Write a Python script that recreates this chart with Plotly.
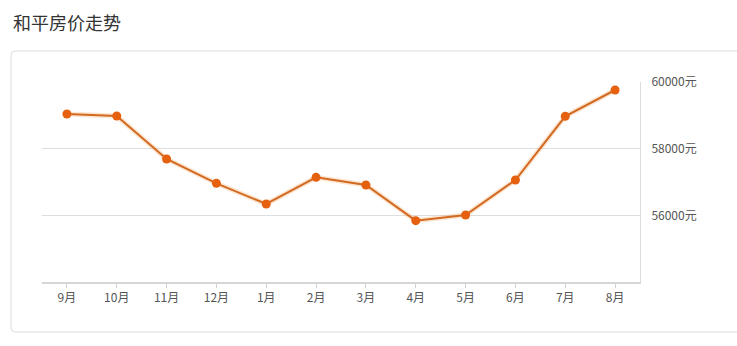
import plotly.graph_objects as go

months = ["9月", "10月", "11月", "12月", "1月", "2月", "3月", "4月", "5月", "6月", "7月", "8月"]
prices = [59040, 58980, 57690, 56960, 56340, 57140, 56910, 55840, 56010, 57060, 58970, 59760]
y_ticks = [56000, 58000, 60000]
y_tick_text = [f"{v}元" for v in y_ticks]
title_text = "和平房价走势"

W, H = 737, 346
L, R, T, B = 42, 97, 82, 64
pw, ph = W - L - R, H - T - B

def px_x(p):
    return (p - L) / pw

def px_y(p):
    return (H - B - p) / ph

fig = go.Figure()
# soft glow under the line
fig.add_trace(go.Scatter(x=months, y=prices, mode="lines",
                         line=dict(color="rgba(245,150,70,0.25)", width=5),
                         hoverinfo="skip", showlegend=False))
fig.add_trace(go.Scatter(x=months, y=prices, mode="lines+markers",
                         line=dict(color="#d26a22", width=2),
                         marker=dict(color="#e5600f", size=9),
                         showlegend=False))

# card with rounded corners (paper coords)
x0, x1 = px_x(11), px_x(745)
y0, y1 = px_y(332), px_y(51)
rx, ry = 4 / pw, 4 / ph
path = (f"M {x0+rx},{y1} L {x1-rx},{y1} Q {x1},{y1} {x1},{y1-ry} "
        f"L {x1},{y0+ry} Q {x1},{y0} {x1-rx},{y0} "
        f"L {x0+rx},{y0} Q {x0},{y0} {x0},{y0+ry} "
        f"L {x0},{y1-ry} Q {x0},{y1} {x0+rx},{y1} Z")
fig.add_shape(type="path", path=path, xref="paper", yref="paper",
              line=dict(color="#dcdcdc", width=1), fillcolor="rgba(0,0,0,0)", layer="below")

fig.add_annotation(text=title_text, xref="paper", yref="paper",
                   x=px_x(11), y=px_y(22), xanchor="left", yanchor="middle",
                   showarrow=False, font=dict(size=18, color="#333333",
                                              family="Noto Sans CJK SC"))

fig.update_layout(
    width=W, height=H,
    margin=dict(l=L, r=R, t=T, b=B),
    paper_bgcolor="white", plot_bgcolor="white",
    font=dict(family="Noto Sans CJK SC", color="#555555", size=12),
    xaxis=dict(type="category", range=[-0.5, 11.5], showgrid=False,
               showline=True, linecolor="#d6d6d6", linewidth=2,
               ticks="outside", ticklen=4, tickcolor="#d0d0d0",
               tickfont=dict(size=12, color="#555555"), fixedrange=True),
    yaxis=dict(range=[54000, 60000], side="right", tickvals=y_ticks,
               ticktext=y_tick_text, showgrid=True, gridcolor="#dedede",
               gridwidth=1, showline=True, linecolor="#dddddd", linewidth=1,
               ticks="", ticklabelstandoff=8, zeroline=False,
               tickfont=dict(size=12, color="#555555"), fixedrange=True),
)

fig.write_html("out.html")
